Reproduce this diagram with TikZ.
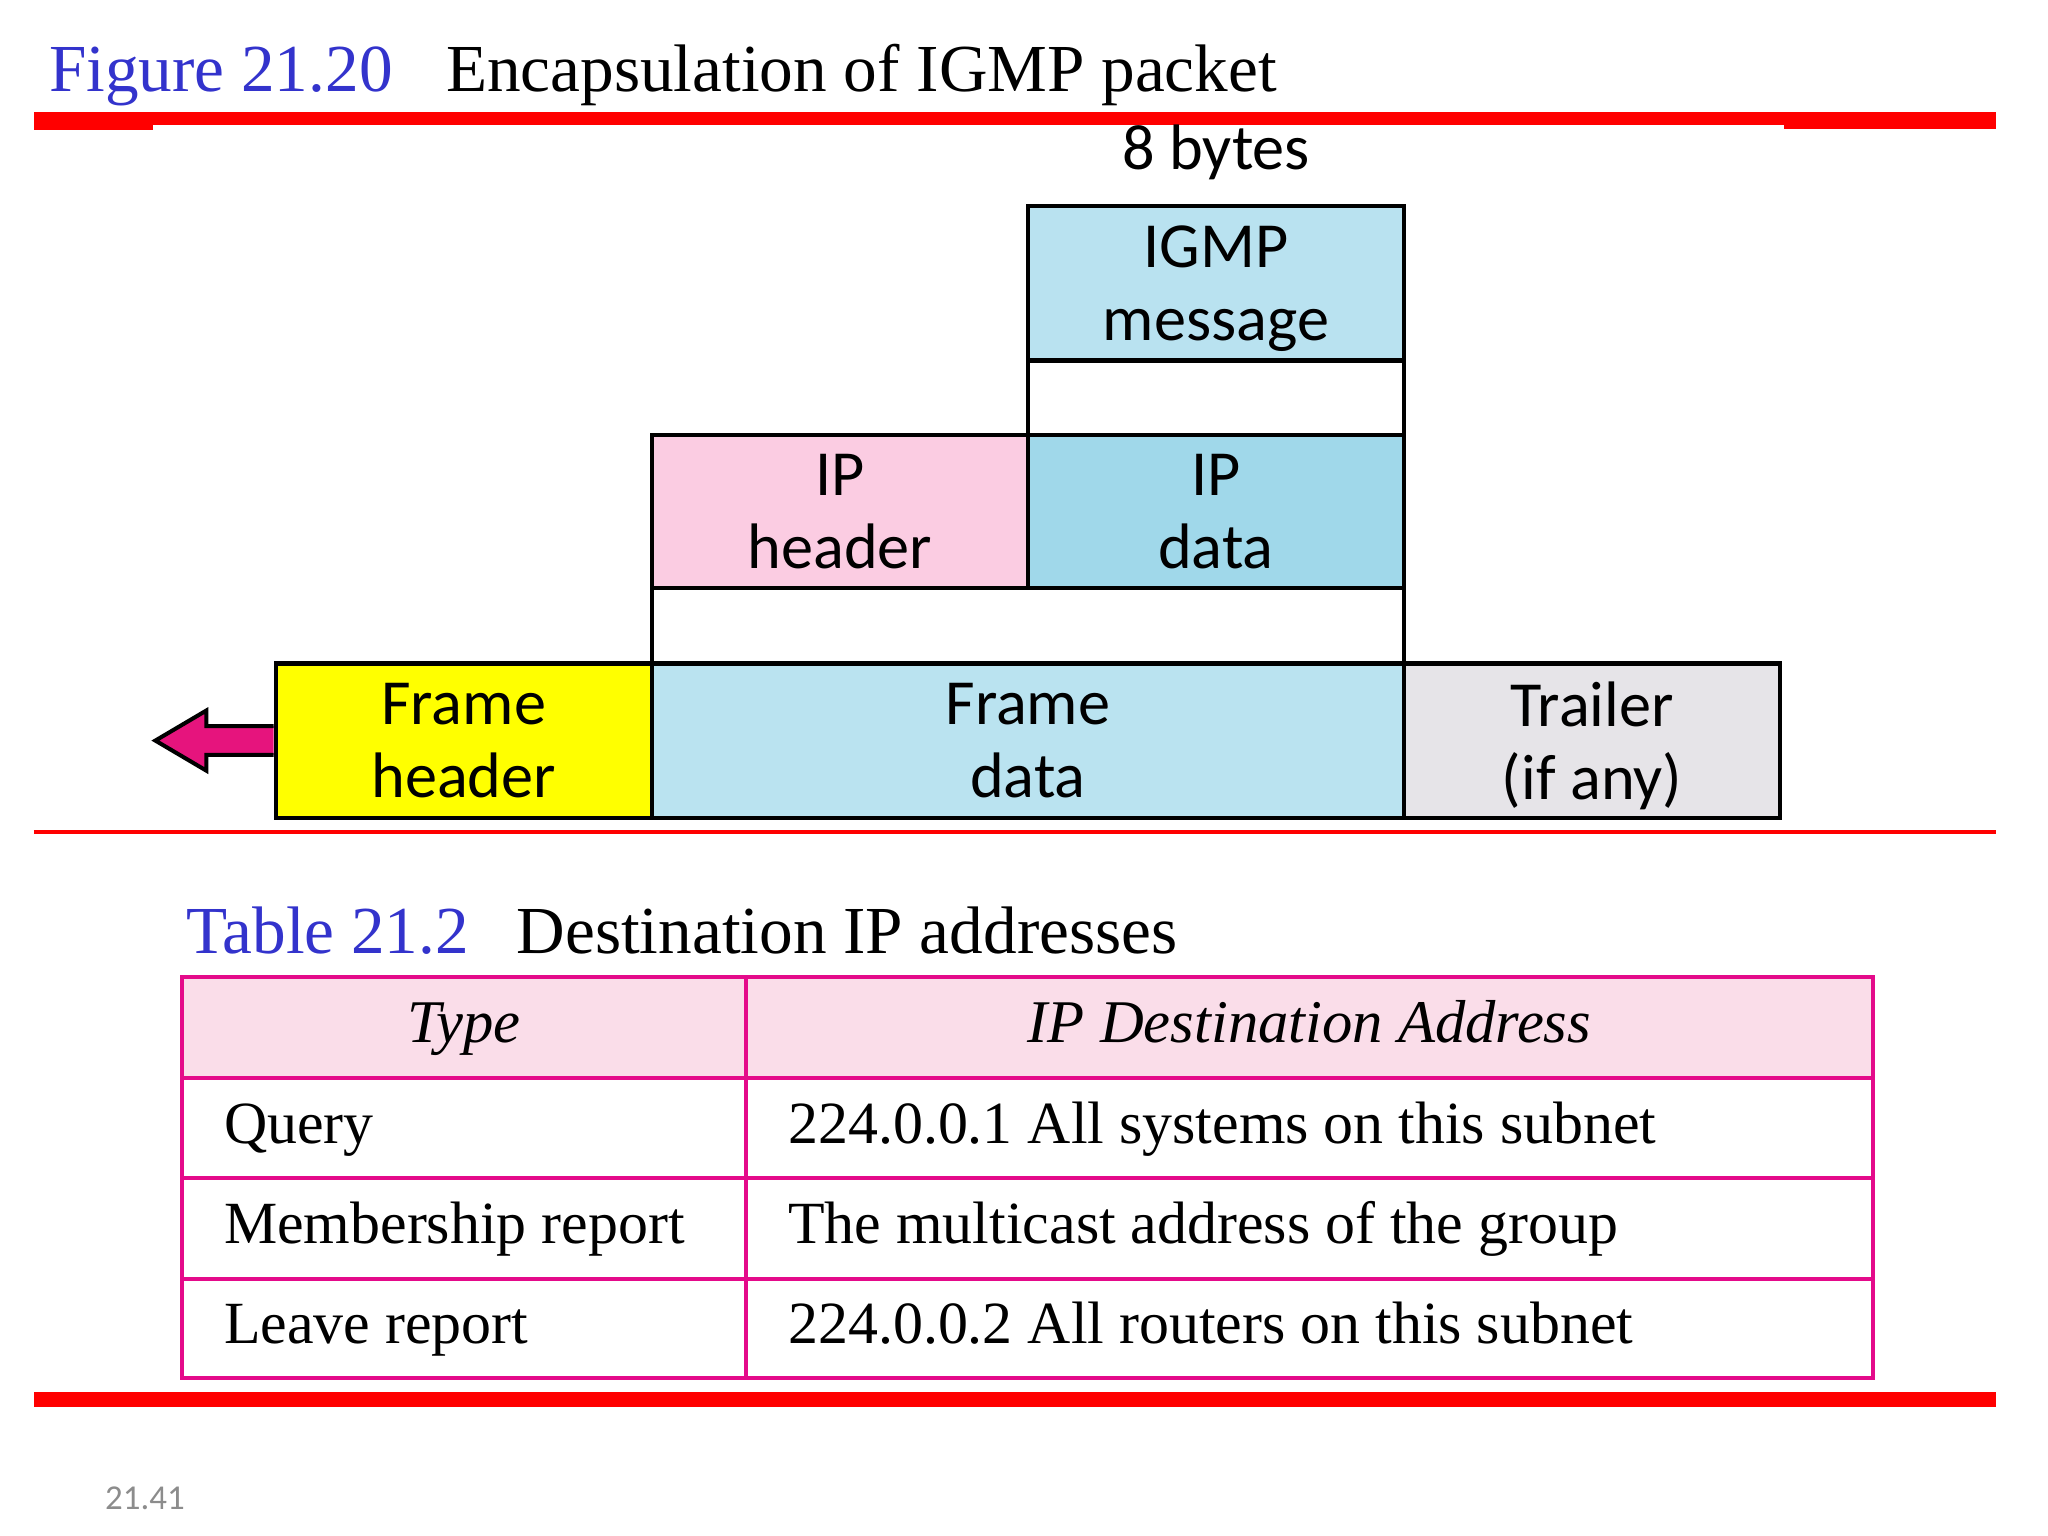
\documentclass[tikz,border=0pt]{standalone}
\usepackage{fontspec}
\setmainfont{Liberation Serif}
\newfontfamily\boxfont{Carlito}
\definecolor{figblue}{RGB}{51,51,204}
\definecolor{igmpblue}{RGB}{185,226,240}
\definecolor{ipblue}{RGB}{160,216,234}
\definecolor{framblue}{RGB}{186,227,240}
\definecolor{hdrpink}{RGB}{251,204,226}
\definecolor{trailgray}{RGB}{230,228,232}
\definecolor{arrowpink}{RGB}{230,20,125}
\definecolor{tabmagenta}{RGB}{228,10,138}
\definecolor{tabhead}{RGB}{250,221,233}
\definecolor{pagegray}{RGB}{140,140,140}
\definecolor{frmyellow}{RGB}{255,255,0}
\tikzset{
  pkt/.style={draw,line width=1.1pt,minimum width=3.6cm,minimum height=1.475cm,
    inner sep=0pt,outer sep=0pt,align=center,text depth=0pt,
    font=\boxfont\fontsize{17.5}{19.9}\selectfont},
  widepkt/.style={pkt,minimum width=7.2cm},
  gappkt/.style={pkt,fill=white,minimum height=0.7125cm},
  titletxt/.style={anchor=base west,inner sep=0pt,font=\fontsize{18.3}{22}\selectfont},
  tabhd/.style={anchor=base,inner sep=0pt,font=\fontsize{16.5}{19}\selectfont\itshape},
  tabtxt/.style={anchor=base west,inner sep=0pt,font=\fontsize{16.3}{19}\selectfont},
  tabline/.style={draw=tabmagenta,line width=1.1pt}
}
\begin{document}
\begin{tikzpicture}[x=0.0125cm,y=-0.0125cm]
  \useasboundingbox (0,0) rectangle (1568,1176);
  % titles and rules
  \node[titletxt,text=figblue] (figlbl) at (37,70) {Figure 21.20};
  \node[titletxt] (figttl) at (341,70) {Encapsulation of IGMP packet};
  \fill[red] (26,86) rectangle (1528,95.5);
  \fill[red] (26,95) rectangle (117,99.5);
  \fill[red] (1366,95) rectangle (1528,99);
  \draw[red,line width=0.9pt] (26,637) -- (1528,637);
  \fill[red] (26,1066) rectangle (1528,1077);

  % encapsulation
  \node[anchor=base,inner sep=0pt,font=\boxfont\fontsize{17.5}{19.9}\selectfont] (bytes) at (931,130) {8 bytes};
  \node[pkt,fill=igmpblue] (igmp) at (931,217) {IGMP\\message};
  \node[gappkt] (gap1) at (931,304.5) {};
  \node[pkt,fill=hdrpink,minimum height=1.4625cm] (iphdr) at (643,391.5) {IP\\header};
  \node[pkt,fill=ipblue,minimum height=1.4625cm] (ipdata) at (931,391.5) {IP\\data};
  \node[gappkt,minimum width=7.2cm] (gap2) at (787,479) {};
  \node[pkt,fill=frmyellow] (frmhdr) at (355,567) {Frame\\header};
  \node[widepkt,fill=framblue] (frmdata) at (787,567) {Frame\\data};
  \node[pkt,fill=trailgray] (trailer) at (1219,567) {Trailer\\(if any)};
  \filldraw[line width=1.1pt,fill=arrowpink] (frmhdr.west) ++(-1.5,-11) -- ++(-51.5,0) -- ++(0,-12)
    -- ++(-39,23) -- ++(39,23) -- ++(0,-12) -- ++(51.5,0);

  % table
  \node[titletxt,text=figblue] (tablbl) at (142,730) {Table 21.2};
  \node[titletxt] (tabttl) at (395,730) {Destination IP addresses};
  \fill[tabhead] (139,748) rectangle (1434,825);
  \foreach \y in {825,902,979}
    \draw[tabline] (139,\y) -- (1434,\y);
  \draw[tabline] (571,748) -- (571,1055);
  \draw[tabline] (139,748) rectangle (1434,1055);
  \node[tabhd] (typehd) at (355,798) {Type};
  \node[tabhd] (addrhd) at (1002.5,798) {IP Destination Address};
  \node[tabtxt] (query) at (171,875.5) {Query};
  \node[tabtxt] (queryad) at (603,875.5) {224.0.0.1 All systems on this subnet};
  \node[tabtxt] (member) at (171,952) {Membership report};
  \node[tabtxt] (memberad) at (603,952) {The multicast address of the group};
  \node[tabtxt] (leave) at (171,1028.5) {Leave report};
  \node[tabtxt] (leavead) at (603,1028.5) {224.0.0.2 All routers on this subnet};

  \node[anchor=base west,inner sep=0pt,text=pagegray,font=\boxfont\fontsize{9.5}{11}\selectfont] (pagenum) at (80,1156) {21.41};
\end{tikzpicture}
\end{document}
